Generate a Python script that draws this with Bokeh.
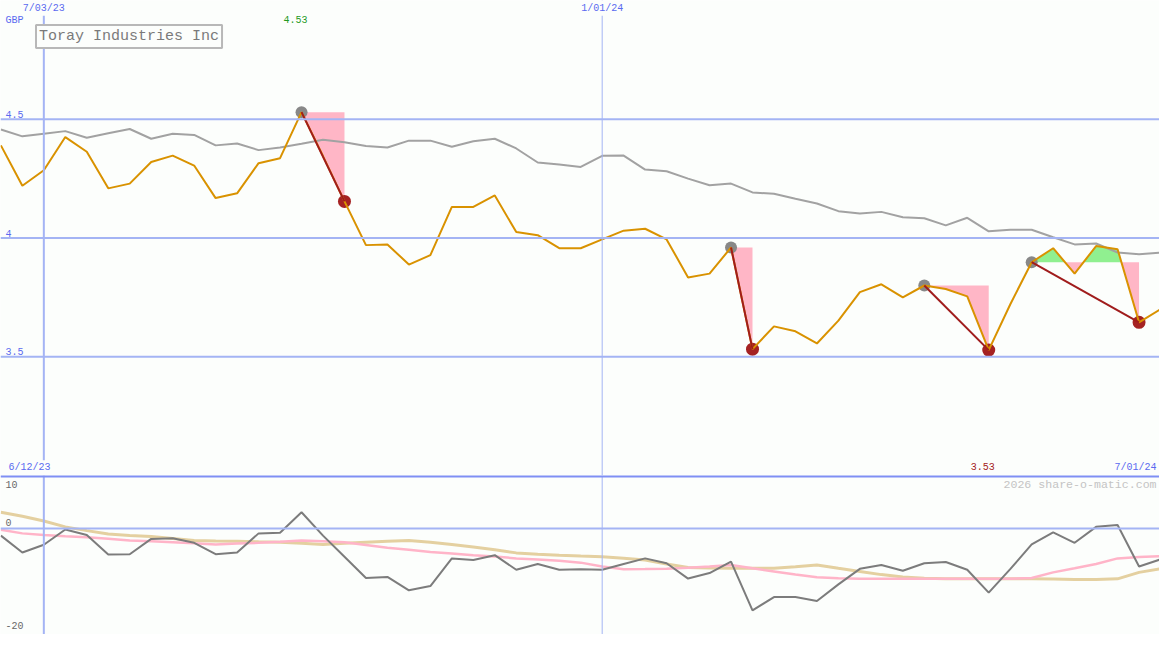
import numpy as np
import pandas as pd
from bokeh.plotting import figure
from bokeh.models import Span, Range1d, Label
from bokeh.layouts import column
from bokeh.embed import file_html
from bokeh.resources import INLINE

# ---------------- data ----------------
title = "Toray Industries Inc"
currency = "GBP"
start_date = "2023-06-19"
dates = pd.date_range(start_date, periods=55, freq="7D")

price = [4.39, 4.22, 4.285, 4.425, 4.363, 4.209, 4.229, 4.32, 4.347, 4.305,
         4.168, 4.188, 4.315, 4.336, 4.53, 4.345, 4.154, 3.97, 3.973, 3.888,
         3.928, 4.131, 4.131, 4.179, 4.025, 4.012, 3.957, 3.957, 3.994, 4.031,
         4.039, 3.994, 3.834, 3.85, 3.96, 3.532, 3.628, 3.607, 3.556, 3.652,
         3.772, 3.805, 3.75, 3.80, 3.785, 3.754, 3.528, 3.72, 3.898, 3.957,
         3.85, 3.966, 3.953, 3.645, 3.70]

price_ma = [4.457, 4.428, 4.439, 4.45, 4.422, 4.441, 4.459, 4.418, 4.439, 4.434,
            4.39, 4.398, 4.37, 4.381, 4.397, 4.414, 4.403, 4.387, 4.381, 4.41,
            4.41, 4.384, 4.407, 4.418, 4.377, 4.318, 4.309, 4.299, 4.346, 4.347,
            4.288, 4.281, 4.25, 4.222, 4.229, 4.192, 4.186, 4.165, 4.145, 4.113,
            4.103, 4.11, 4.087, 4.083, 4.053, 4.085, 4.028, 4.035, 4.035, 4.003,
            3.973, 3.977, 3.939, 3.932, 3.938]

osc = [-1.35, -4.54, -3.07, -0.18, -1.23, -4.91, -4.85, -1.96, -1.84, -2.70,
       -4.85, -4.54, -0.92, -0.80, 3.07, -1.35, -5.34, -9.33, -9.14, -11.66,
       -10.86, -5.64, -5.95, -5.03, -7.79, -6.69, -7.79, -7.67, -7.79, -6.69,
       -5.64, -6.56, -9.45, -8.40, -6.26, -15.46, -12.94, -12.94, -13.68, -10.55,
       -7.61, -6.87, -7.98, -6.56, -6.32, -7.79, -12.09, -7.67, -3.01, -0.74,
       -2.70, 0.31, 0.67, -7.18, -5.83]

osc_fast = [-0.25, -0.92, -1.23, -1.45, -1.66, -1.95, -2.27, -2.4, -2.58, -2.8,
            -3.0, -2.85, -2.70, -2.5, -2.27, -2.4, -2.58, -3.1, -3.62, -4.0,
            -4.42, -4.7, -5.03, -5.3, -5.64, -5.85, -6.07, -6.44, -7.18, -7.67,
            -7.65, -7.61, -7.4, -7.18, -6.87, -7.5, -8.1, -8.7, -9.2, -9.4,
            -9.5, -9.5, -9.5, -9.5, -9.5, -9.5, -9.5, -9.5, -9.33, -8.28,
            -7.5, -6.69, -5.64, -5.4, -5.2]

osc_slow = [3.07, 2.3, 1.41, 0.31, -0.4, -1.04, -1.3, -1.53, -1.9, -2.27,
            -2.35, -2.39, -2.5, -2.58, -2.8, -3.0, -2.8, -2.58, -2.4, -2.27,
            -2.58, -3.0, -3.5, -4.0, -4.6, -4.85, -5.03, -5.2, -5.34, -5.6,
            -5.95, -6.7, -7.36, -7.45, -7.48, -7.48, -7.48, -7.2, -6.87, -7.5,
            -8.1, -8.7, -9.14, -9.4, -9.5, -9.5, -9.5, -9.5, -9.5, -9.55,
            -9.63, -9.6, -9.5, -8.28, -7.6]

peak_idx = [14, 34, 43, 48]
trough_idx = [16, 35, 46, 53]

price_ticks = [4.5, 4.0, 3.5]
price_tick_labels = ["4.5", "4", "3.5"]
osc_tick_labels = ["10", "0", "-20"]
date_marks = ["2023-07-03", "2024-01-01"]
date_mark_labels = ["7/03/23", "1/01/24"]
range_start_label = "6/12/23"
range_end_label = "7/01/24"
max_label = "4.53"
min_label = "3.53"
watermark = "2026 share-o-matic.com"

# ---------------- styling ----------------
BG = "#fcfefc"
GRID = "#a4b4f4"
DIVIDER = "#7f8ff4"
BLUE_TXT = "#5a6af0"
FONT = "Liberation Mono"
W = 1159
H_TOP = 475
H_BOT = 159
REF_W = 1175.0

def ms(t):
    return pd.Timestamp(t).value / 1e6

x_start = ms("2023-06-19") - 3 * 3600e3
x_end = ms("2024-07-01") - 8 * 3600e3
xr = Range1d(start=x_start, end=x_end)

def px_x(px):
    return x_start + px * (x_end - x_start) / REF_W

def top_y(py):
    return 5.0 - py / 243.5

def bot_y(py):
    return 10.0 - (py - 487.0) * 30.0 / 163.0

xms = np.array([d.value / 1e6 for d in dates])

def make_fig(h, y0, y1):
    p = figure(width=W, height=h, x_range=xr, y_range=Range1d(y0, y1),
               x_axis_location=None, y_axis_location=None,
               output_backend="svg", toolbar_location=None, min_border=0)
    p.grid.visible = False
    p.outline_line_color = None
    p.background_fill_color = BG
    p.border_fill_color = BG
    return p

def add_text(p, x, y, text, color, align="left", size="10px", baseline="middle", bg=None):
    kw = {}
    if bg is not None:
        kw = dict(background_fill_color=bg, padding=2)
    p.add_layout(Label(x=x, y=y, text=text, text_color=color, text_align=align,
                       text_baseline=baseline, text_font=FONT, text_font_size=size, **kw))

# ---------------- top panel ----------------
top = make_fig(H_TOP, 3.0, 5.0)

for v in price_ticks:
    top.add_layout(Span(location=v, dimension="width", line_color=GRID, line_width=2))
for d, lw in zip(date_marks, [2, 1]):
    top.add_layout(Span(location=ms(d), dimension="height", line_color=GRID, line_width=lw))

price_arr = np.array(price)
for pi, ti in zip(peak_idx, trough_idx):
    level = price_arr[pi]
    xs, ys = [], []
    for k in range(pi, ti):
        x0, y0, x1, y1 = xms[k], price_arr[k], xms[k + 1], price_arr[k + 1]
        xs.append(x0); ys.append(y0)
        if (y0 - level) * (y1 - level) < 0:
            f = (level - y0) / (y1 - y0)
            xs.append(x0 + f * (x1 - x0)); ys.append(level)
    xs.append(xms[ti]); ys.append(price_arr[ti])
    xs = np.array(xs); ys = np.array(ys)
    lv = np.full_like(ys, level)
    top.varea(x=xs, y1=lv, y2=np.maximum(ys, lv), fill_color="#90f090", fill_alpha=1.0)
    top.varea(x=xs, y1=np.minimum(ys, lv), y2=lv, fill_color="#ffb6c6", fill_alpha=1.0)

top.line(xms, price_ma, line_color="#a2a2a2", line_width=2)

top.scatter(xms[peak_idx], price_arr[peak_idx], size=12, fill_color="#888888",
            line_color=None)
top.scatter(xms[trough_idx], price_arr[trough_idx], size=13, fill_color="#a52222",
            line_color=None)

top.line(xms, price, line_color="#d99200", line_width=2)

top.segment(x0=xms[peak_idx], y0=price_arr[peak_idx], x1=xms[trough_idx],
            y1=price_arr[trough_idx], line_color="#a01c1c", line_width=2)

# labels
for v, lab in zip(price_ticks, price_tick_labels):
    add_text(top, px_x(5), v + 5 / 243.5, lab, BLUE_TXT)
add_text(top, px_x(5), top_y(20), currency, BLUE_TXT)
for d, lab in zip(date_marks, date_mark_labels):
    add_text(top, ms(d), top_y(8), lab, BLUE_TXT, align="center", bg=BG)
add_text(top, px_x(6), top_y(479), range_start_label, BLUE_TXT, bg=BG)
add_text(top, px_x(1172), top_y(479), range_end_label, BLUE_TXT, align="right")
add_text(top, xms[peak_idx[0]] - 6 * (x_end - x_start) / REF_W, top_y(19), max_label,
         "#1f9a1f", align="center")
add_text(top, xms[trough_idx[2]] - 6 * (x_end - x_start) / REF_W, top_y(478), min_label,
         "#a52222", align="center")

top.add_layout(Label(x=px_x(36), y=top_y(37), text=title, text_color="#7a7a7a",
                     text_align="left", text_baseline="middle", text_font=FONT,
                     text_font_size="15px", border_line_color="#b8b8b8",
                     border_line_width=2, background_fill_color=BG, padding=3))

# ---------------- bottom panel ----------------
bot = make_fig(H_BOT, -20.0, 10.0)
bot.add_layout(Span(location=0, dimension="width", line_color=GRID, line_width=2))
for d, lw in zip(date_marks, [2, 1]):
    bot.add_layout(Span(location=ms(d), dimension="height", line_color=GRID, line_width=lw))
bot.add_layout(Span(location=10.0, dimension="width", line_color=DIVIDER, line_width=4))

bot.line(xms, osc_slow, line_color="#e4d0a0", line_width=3)
bot.line(xms, osc_fast, line_color="#ffb4c8", line_width=2.5)
bot.line(xms, osc, line_color="#7c7c7c", line_width=2)

add_text(bot, px_x(5), bot_y(496), osc_tick_labels[0], "#686868")
add_text(bot, px_x(5), bot_y(535), osc_tick_labels[1], "#686868")
add_text(bot, px_x(5), bot_y(641), osc_tick_labels[2], "#686868")
add_text(bot, px_x(1172), bot_y(496), watermark, "#c4c4c4", align="right", size="11.6px")

layout = column(top, bot, spacing=0)
open("out.html", "w").write(file_html(layout, INLINE))
